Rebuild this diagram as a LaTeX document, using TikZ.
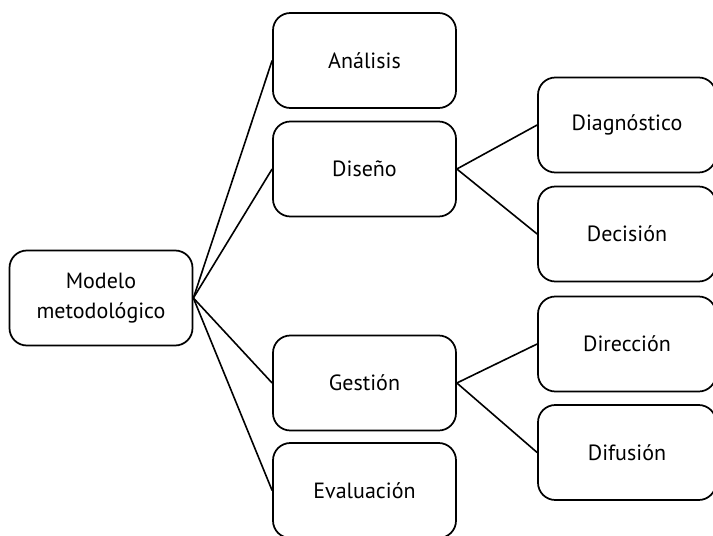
\documentclass[tikz,border=0pt]{standalone}
\usepackage{fontspec}
\setmainfont{PT Sans}
\begin{document}
\begin{tikzpicture}[x=0.75pt,y=-0.75pt,
  box/.style={draw=black, line width=1.3pt, rounded corners=13pt, fill=white,
    minimum width=183*0.75pt, minimum height=95*0.75pt, inner sep=0pt,
    align=center, font=\fontsize{16.5}{22}\selectfont},
  rbox/.style={box, minimum width=178*0.75pt},
  link/.style={draw=black, line width=1.2pt}]
\useasboundingbox (0,0) rectangle (713,535);
\node[box] (mod) at (101,298) {Modelo\\metodológico};
\node[box] (ana) at (364.5,60.5) {Análisis};
\node[box] (dis) at (364.5,169) {Diseño};
\node[box] (ges) at (364.5,383) {Gestión};
\node[box] (eva) at (364.5,490.5) {Evaluación};
\node[rbox] (dia) at (627,125) {Diagnóstico};
\node[rbox] (dec) at (627,234) {Decisión};
\node[rbox] (dir) at (627,344) {Dirección};
\node[rbox] (dif) at (627,452.5) {Difusión};
\draw[link] (mod.east) -- (ana.west);
\draw[link] (mod.east) -- (dis.west);
\draw[link] (mod.east) -- (ges.west);
\draw[link] (mod.east) -- (eva.west);
\draw[link] (dis.east) -- (dia.west);
\draw[link] (dis.east) -- (dec.west);
\draw[link] (ges.east) -- (dir.west);
\draw[link] (ges.east) -- (dif.west);
\end{tikzpicture}
\end{document}
